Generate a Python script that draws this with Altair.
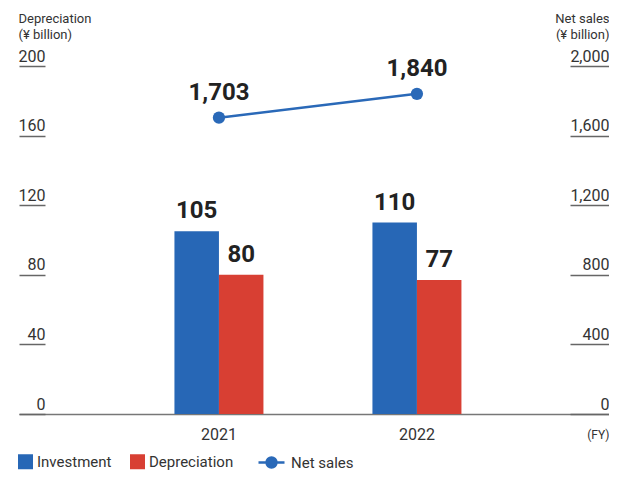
import altair as alt
import pandas as pd

years = ["2021", "2022"]
investment = [105, 110]
depreciation = [80, 77]
net_sales = [1703, 1840]
bar_series = ["Investment", "Depreciation"]
bar_colors = ["#2767b6", "#d83f33"]
line_color = "#2a69b8"
left_ticks = [0, 40, 80, 120, 160, 200]
right_ticks = [0, 400, 800, 1200, 1600, 2000]

rows = []
for i, y in enumerate(years):
    rows.append({"year": y, "series": "Investment", "value": investment[i]})
    rows.append({"year": y, "series": "Depreciation", "value": depreciation[i]})
bars_df = pd.DataFrame(rows)
line_df = pd.DataFrame({"year": years, "sales": net_sales, "series": ["Net sales"] * len(years)})

FONT = "Roboto"
TXT = "#333333"
W = 590
H = 348

xenc = alt.X(
    "year:N",
    scale=alt.Scale(paddingInner=0.5505, paddingOuter=0.7652, align=0.513),
    axis=alt.Axis(
        title="(FY)", labelAngle=0, ticks=False, labelPadding=12, labelFontSize=16,
        labelColor=TXT, labelFont=FONT, domainColor="#777777", domainWidth=1.5,
        titleX=W, titleY=15, titleAlign="right", titleBaseline="top",
        titleFontSize=12, titleFontWeight="normal", titleColor=TXT, titleFont=FONT,
    ),
)

yleft = alt.Y(
    "value:Q",
    scale=alt.Scale(domain=[0, 200], nice=False),
    axis=alt.Axis(
        values=left_ticks, offset=-26, tickSize=26, tickColor="#666666", tickWidth=1.5,
        domain=False, grid=False, labelAlign="right", labelBaseline="alphabetic",
        labelPadding=-26, labelOffset=-5, labelFontSize=16, labelColor=TXT, labelFont=FONT,
        labelFlush=False, labelOverlap=False,
        title=["Depreciation", "(¥ billion)"], titleAngle=0, titleAlign="left",
        titleBaseline="top", titleX=-27, titleY=-54, titleFontSize=13,
        titleFontWeight="normal", titleColor=TXT, titleFont=FONT, titleLineHeight=16,
    ),
)

bars = alt.Chart(bars_df).mark_bar().encode(
    x=xenc,
    xOffset=alt.XOffset("series:N", sort=bar_series),
    y=yleft,
    color=alt.Color(
        "series:N",
        sort=bar_series,
        scale=alt.Scale(domain=bar_series, range=bar_colors),
        legend=alt.Legend(
            orient="none", legendX=-1, legendY=388, direction="horizontal", title=None,
            symbolType="square", symbolSize=225, symbolStrokeWidth=0, labelFontSize=15,
            labelColor=TXT, labelFont=FONT, columnPadding=18, labelOffset=4,
        ),
    ),
)

bar_text = alt.Chart(bars_df).mark_text(
    font=FONT, fontSize=24, fontWeight="bold", color="#222222", dy=-13, baseline="alphabetic"
).encode(
    x="year:N",
    xOffset=alt.XOffset("series:N", sort=bar_series),
    y="value:Q",
    text="value:Q",
)

yright = alt.Y(
    "sales:Q",
    scale=alt.Scale(domain=[0, 2000], nice=False),
    axis=alt.Axis(
        orient="right", values=right_ticks, offset=-39, tickSize=39, tickColor="#666666",
        tickWidth=1.5, domain=False, grid=False, labelAlign="right",
        labelBaseline="alphabetic", labelPadding=0, labelOffset=-5, labelFontSize=16,
        labelColor=TXT, labelFont=FONT, labelFlush=False, labelOverlap=False,
        labelExpr="format(datum.value, ',')",
        title=["Net sales", "(¥ billion)"], titleAngle=0, titleAlign="right",
        titleBaseline="top", titleX=39, titleY=-54, titleFontSize=13,
        titleFontWeight="normal", titleColor=TXT, titleFont=FONT, titleLineHeight=16,
    ),
)

line = alt.Chart(line_df).mark_line(strokeWidth=2.5).encode(
    x="year:N",
    y=yright,
    stroke=alt.Stroke(
        "series:N",
        scale=alt.Scale(domain=["Net sales"], range=[line_color]),
        legend=alt.Legend(
            orient="none", legendX=238, legendY=382, title=None,
            symbolType="M-1,0L1,0M-0.38,0A0.38,0.38,0,1,1,0.38,0A0.38,0.38,0,1,1,-0.38,0Z",
            symbolSize=676, symbolStrokeWidth=2.5, symbolFillColor=line_color,
            labelFontSize=15, labelColor=TXT, labelFont=FONT, labelOffset=5,
        ),
    ),
)

pts = alt.Chart(line_df).mark_circle(size=150, opacity=1, color=line_color).encode(
    x="year:N", y="sales:Q"
)

line_text = alt.Chart(line_df).mark_text(
    font=FONT, fontSize=24, fontWeight="bold", color="#222222", dy=-18, baseline="alphabetic"
).encode(
    x="year:N",
    y="sales:Q",
    text=alt.Text("sales:Q", format=","),
)

left = alt.layer(bars, bar_text)
right = alt.layer(line, pts, line_text)

chart = alt.layer(left, right).resolve_scale(y="independent").properties(
    width=W,
    height=H,
    autosize=alt.AutoSizeParams(type="none"),
    padding={"left": 11, "top": 58, "right": 0, "bottom": 56},
).configure_view(stroke=None)

chart.save("out.html", embed_options={"renderer": "svg", "actions": False})
